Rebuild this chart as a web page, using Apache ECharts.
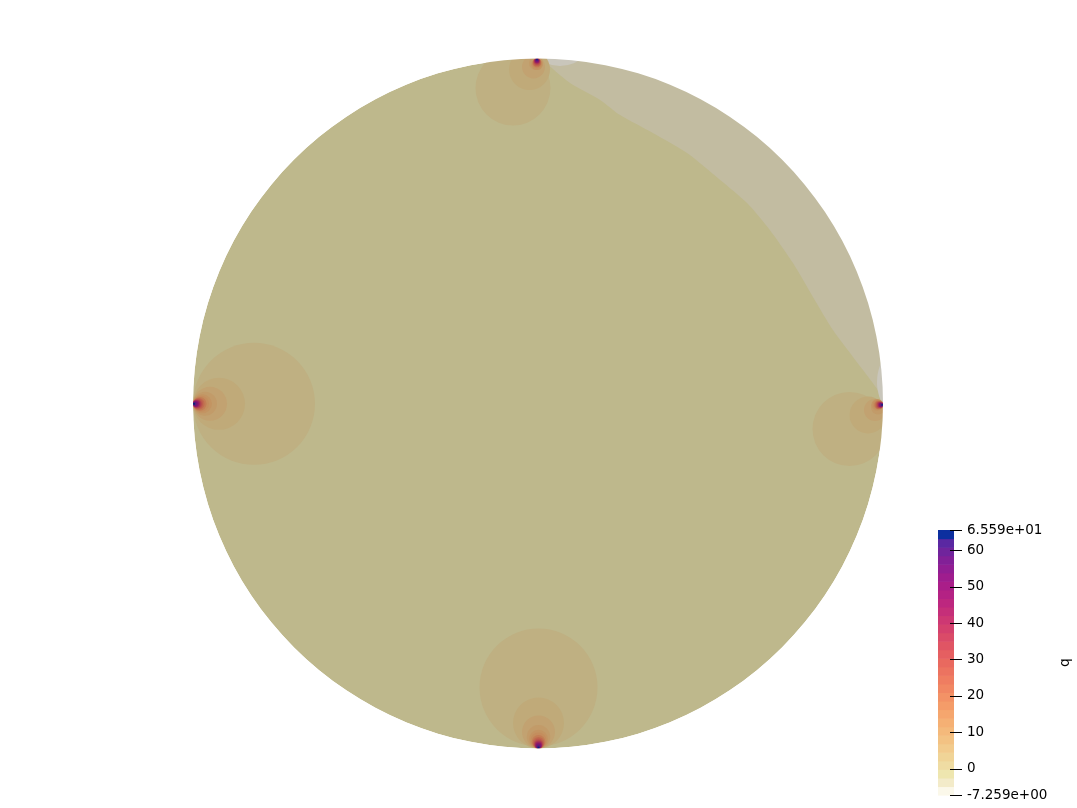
<!DOCTYPE html>
<html><head><meta charset="utf-8">
<script src="https://cdn.jsdelivr.net/npm/echarts@6/dist/echarts.min.js"></script>
<style>html,body{margin:0;padding:0;background:#fff}#c{width:1077px;height:808px}</style>
</head><body><div id="c"></div>
<script>
// ---- scalar range and colour bar ----
const qMin = -7.259, qMax = 65.59;
const tickValues = [-7.259, 0, 10, 20, 30, 40, 50, 60, 65.59];
const tickLabels = ['-7.259e+00', '0', '10', '20', '30', '40', '50', '60', '6.559e+01'];
const bandColors = [
  '#fbf8ea','#f3ebc9','#eee6af','#efdca3','#f0d497','#f2cb8d','#f3c283','#f4b97b',
  '#f5b074','#f5a66e','#f49c69','#f39266','#f18763','#ef7d61','#ec7360','#e9695f',
  '#e55f61','#e05564','#da4b68','#d4416d','#cd3873','#c52f79','#bd277f','#b42284',
  '#aa1e89','#9f1d8e','#911e93','#822097','#70249c','#5a28a2','#0c2f9f'
];

// ---- field on the unit disc: [cx, cy, r, q] ----
const baseDisc = [[0, 0, 1, -1.4]];
const upperRegionValue = -3.7;
const upperRegion = [
  [-0.003, 1.0], [0.012, 0.996], [0.093, 0.929], [0.180, 0.880], [0.238, 0.836],
  [0.333, 0.784], [0.432, 0.726], [0.528, 0.648], [0.606, 0.581], [0.672, 0.503],
  [0.739, 0.407], [0.797, 0.309], [0.855, 0.213], [0.913, 0.135], [0.971, 0.059],
  [0.997, 0.019], [1.0, -0.004], [1.1, 0.0], [0.95, 0.55], [0.55, 0.95], [0.0, 1.1]
];
const edgePatches = [
  [1.1217, 0.0623, 0.1391, -6.1],
  [0.0638, 1.0826, 0.1043, -6.1]
];
const topSource = [
  [-0.0725, 0.9145, 0.1087, 1.0], [-0.0246, 0.9681, 0.0594, 3.3], [-0.0130, 0.9754, 0.0333, 5.7],
  [-0.0058, 0.9870, 0.0203, 8.0], [-0.003, 0.9832, 0.0168, 10.4], [-0.003, 0.9855, 0.0145, 12.7],
  [-0.003, 0.9872, 0.0128, 17.4], [-0.003, 0.9887, 0.0113, 22.1], [-0.003, 0.9899, 0.0101, 26.8],
  [-0.003, 0.9910, 0.0090, 31.5], [-0.003, 0.9919, 0.0081, 36.2], [-0.003, 0.9928, 0.0072, 40.9],
  [-0.003, 0.9933, 0.0067, 45.6], [-0.003, 0.9942, 0.0058, 50.3], [-0.003, 0.9951, 0.0049, 55.0],
  [-0.003, 0.9962, 0.0038, 59.7], [-0.003, 0.9975, 0.0025, 64.4]
];
const leftSource = [
  [-0.8232, -0.001, 0.1768, 1.0], [-0.9246, -0.001, 0.0754, 3.3], [-0.9507, -0.001, 0.0493, 5.7],
  [-0.9652, -0.001, 0.0348, 8.0], [-0.9725, -0.001, 0.0275, 10.4], [-0.9768, -0.001, 0.0232, 12.7],
  [-0.9803, -0.001, 0.0197, 17.4], [-0.9832, -0.001, 0.0168, 22.1], [-0.9855, -0.001, 0.0145, 26.8],
  [-0.9872, -0.001, 0.0128, 31.5], [-0.9887, -0.001, 0.0113, 36.2], [-0.9899, -0.001, 0.0101, 40.9],
  [-0.9910, -0.001, 0.0090, 45.6], [-0.9922, -0.001, 0.0078, 50.3], [-0.9933, -0.001, 0.0067, 55.0],
  [-0.9950, -0.001, 0.0050, 59.7], [-0.9970, -0.001, 0.0030, 64.4]
];
const bottomSource = [
  [0.0015, -0.823, 0.171, 1.0], [0.0015, -0.9261, 0.0739, 3.3], [0.0015, -0.9522, 0.0478, 5.7],
  [0.0015, -0.9661, 0.0339, 8.0], [0.0015, -0.9730, 0.0270, 10.4], [0.0015, -0.9768, 0.0232, 12.7],
  [0.0015, -0.9803, 0.0197, 17.4], [0.0015, -0.9832, 0.0168, 22.1], [0.0015, -0.9855, 0.0145, 26.8],
  [0.0015, -0.9872, 0.0128, 31.5], [0.0015, -0.9887, 0.0113, 36.2], [0.0015, -0.9899, 0.0101, 40.9],
  [0.0015, -0.9910, 0.0090, 45.6], [0.0015, -0.9922, 0.0078, 50.3], [0.0015, -0.9933, 0.0067, 55.0],
  [0.0015, -0.9950, 0.0050, 59.7], [0.0015, -0.9970, 0.0030, 64.4]
];
const rightSource = [
  [0.9029, -0.0739, 0.1072, 1.0], [0.9565, -0.0333, 0.0536, 3.3], [0.9768, -0.0188, 0.0319, 5.7],
  [0.9855, -0.0116, 0.0203, 8.0], [0.9832, -0.004, 0.0168, 10.4], [0.9855, -0.004, 0.0145, 12.7],
  [0.9872, -0.004, 0.0128, 17.4], [0.9887, -0.004, 0.0113, 22.1], [0.9899, -0.004, 0.0101, 26.8],
  [0.9910, -0.004, 0.0090, 31.5], [0.9919, -0.004, 0.0081, 36.2], [0.9928, -0.004, 0.0072, 40.9],
  [0.9933, -0.004, 0.0067, 45.6], [0.9942, -0.004, 0.0058, 50.3], [0.9951, -0.004, 0.0049, 55.0],
  [0.9962, -0.004, 0.0038, 59.7], [0.9975, -0.004, 0.0025, 64.4]
];

// ---- build ----
const FONT = 'DejaVu Sans';
const nBands = bandColors.length;
const bw = (qMax - qMin) / nBands;
const bands = bandColors.map((c, i) => [qMin + i * bw, qMin + (i + 1) * bw, qMin + (i + 0.5) * bw]);
function shade(hex, k) {
  const n = parseInt(hex.slice(1), 16);
  const r = Math.round(((n >> 16) & 255) * k), g = Math.round(((n >> 8) & 255) * k), b = Math.round((n & 255) * k);
  return 'rgb(' + r + ',' + g + ',' + b + ')';
}
function pieces(colorFn) {
  return bands.map((b, i) => i === nBands - 1
    ? { gte: b[0], lte: b[1], color: colorFn(bandColors[i]) }
    : { gte: b[0], lt: b[1], color: colorFn(bandColors[i]) });
}
const circles = [].concat(edgePatches, topSource, leftSource, bottomSource, rightSource);

const chart = echarts.init(document.getElementById('c'), null, { renderer: 'canvas' });
chart.setOption({
  backgroundColor: '#ffffff',
  animation: false,
  grid: [
    { left: 193, top: 58.5, width: 690, height: 690 },
    { left: 938, top: 530, width: 12, height: 265 }
  ],
  xAxis: [
    { gridIndex: 0, type: 'value', min: -1, max: 1, show: false },
    { gridIndex: 1, type: 'value', min: 0, max: 0.75, show: false }
  ],
  yAxis: [
    { gridIndex: 0, type: 'value', min: -1, max: 1, show: false },
    {
      gridIndex: 1, type: 'value', min: qMin, max: qMax, position: 'right', z: 10,
      axisLine: { show: false }, splitLine: { show: false }, axisTick: { show: false },
      axisLabel: {
        show: true, inside: false, customValues: tickValues, margin: 17, color: '#000', fontFamily: FONT, fontSize: 13.5,
        formatter: v => {
          let best = 0;
          tickValues.forEach((t, i) => { if (Math.abs(t - v) < Math.abs(tickValues[best] - v)) best = i; });
          return tickLabels[best];
        }
      },
      name: 'q', nameLocation: 'middle', nameGap: 108, nameRotate: 90,
      nameTextStyle: { color: '#000', fontFamily: FONT, fontSize: 14 }
    }
  ],
  visualMap: [
    { type: 'piecewise', show: false, dimension: 3, seriesIndex: [0, 1, 2], pieces: pieces(c => shade(c, 0.8)) },
    { type: 'piecewise', show: false, dimension: 2, seriesIndex: [4], pieces: pieces(c => c) }
  ],
  series: [
    {
      type: 'custom', xAxisIndex: 0, yAxisIndex: 0, z: 1, silent: true, data: baseDisc,
      renderItem: (p, api) => {
        const c = api.coord([api.value(0), api.value(1)]);
        return { type: 'circle', shape: { cx: c[0], cy: c[1], r: api.size([api.value(2), 0])[0] }, style: { fill: api.visual('color') } };
      }
    },
    {
      type: 'custom', xAxisIndex: 0, yAxisIndex: 0, z: 2, silent: true, data: [[0, 0, 0, upperRegionValue]],
      renderItem: (p, api) => ({
        type: 'polygon', shape: { points: upperRegion.map(pt => api.coord(pt)), smooth: 0.25 }, style: { fill: api.visual('color') }
      })
    },
    {
      type: 'custom', xAxisIndex: 0, yAxisIndex: 0, z: 3, silent: true, data: circles,
      renderItem: (p, api) => {
        const c = api.coord([api.value(0), api.value(1)]);
        return { type: 'circle', shape: { cx: c[0], cy: c[1], r: api.size([api.value(2), 0])[0] }, style: { fill: api.visual('color') } };
      }
    },
    {
      type: 'custom', xAxisIndex: 0, yAxisIndex: 0, z: 4, silent: true, data: [[0, 0, 1]],
      renderItem: (p, api) => {
        const c = api.coord([api.value(0), api.value(1)]);
        return { type: 'ring', shape: { cx: c[0], cy: c[1], r0: api.size([api.value(2), 0])[0], r: 2000 }, style: { fill: '#ffffff' } };
      }
    },
    {
      type: 'custom', xAxisIndex: 1, yAxisIndex: 1, z: 6, silent: true, clip: false, data: bands,
      renderItem: (p, api) => {
        const a = api.coord([0, api.value(1)]);
        const b = api.coord([1, api.value(0)]);
        return { type: 'rect', shape: { x: a[0], y: a[1], width: b[0] - a[0], height: b[1] - a[1] + 0.6 }, style: { fill: api.visual('color') } };
      }
    },
    {
      type: 'custom', xAxisIndex: 1, yAxisIndex: 1, z: 7, silent: true, clip: false, data: tickValues.map(v => [v]),
      renderItem: (p, api) => {
        const a = api.coord([0.75, api.value(0)]);
        const b = api.coord([1.5, api.value(0)]);
        const y = Math.round(a[1]) + 0.5;
        return { type: 'line', shape: { x1: a[0], y1: y, x2: b[0], y2: y }, style: { stroke: '#000', lineWidth: 1 } };
      }
    }
  ]
});
</script></body></html>
